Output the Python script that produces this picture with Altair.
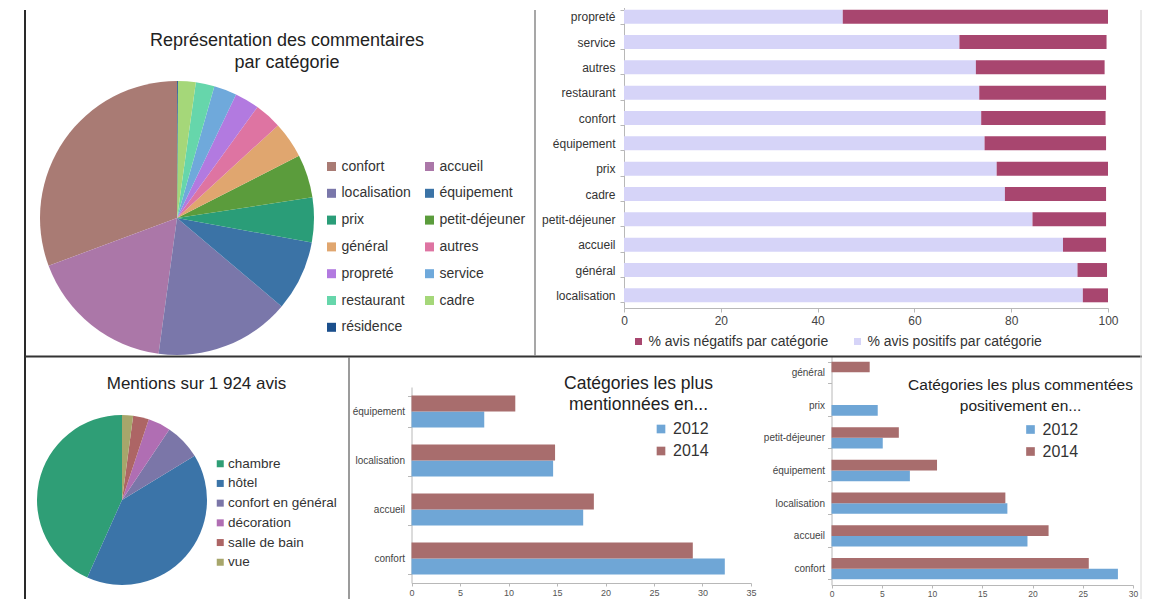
import altair as alt
import pandas as pd

FONT = "Liberation Sans"
W, H = 1134, 591
LSHIFT = 6  # vega places the legend symbol a few px right of legendX


def px(v):
    # page pixel -> chart pixel (the page has an 8px margin)
    return v - 8


# ---------------- data ----------------
pie_a_title = ["Représentation des commentaires", "par catégorie"]
pie_a_cats = ["confort", "accueil", "localisation", "équipement", "prix", "petit-déjeuner",
              "général", "autres", "propreté", "service", "restaurant", "cadre", "résidence"]
pie_a_vals = [30.7, 17.2, 16.0, 8.3, 5.3, 5.1, 4.3, 3.2, 2.9, 2.7, 2.2, 2.1, 0.1]
pie_a_colors = ["#a97b74", "#ab77a8", "#7a77aa", "#3b73a6", "#2a9d78", "#5b9c3c",
                "#e0a66f", "#de74a2", "#b27ae0", "#6fa9db", "#66d6ab", "#a5d779", "#1b4f8c"]

bar_b_cats = ["propreté", "service", "autres", "restaurant", "confort", "équipement",
              "prix", "cadre", "petit-déjeuner", "accueil", "général", "localisation"]
bar_b_pos = [45.2, 69.3, 72.7, 73.4, 73.8, 74.5, 77.0, 78.7, 84.4, 90.7, 93.7, 94.8]
bar_b_neg = [54.8, 30.4, 26.6, 26.2, 25.7, 25.1, 23.0, 20.9, 15.2, 8.9, 6.1, 5.2]
bar_b_series = ["% avis négatifs par catégorie", "% avis positifs par catégorie"]
bar_b_colors = ["#a8466f", "#d6d4f8"]
bar_b_ticks = [0, 20, 40, 60, 80, 100]

pie_c_title = ["Mentions sur 1 924 avis"]
pie_c_cats = ["chambre", "hôtel", "confort en général", "décoration", "salle de bain", "vue"]
pie_c_vals = [43.3, 40.4, 6.9, 4.3, 3.0, 2.1]
pie_c_colors = ["#2f9e76", "#3b74a8", "#7b76a8", "#b06eb3", "#ad6565", "#a7a66b"]

years = ["2012", "2014"]
year_colors = ["#6fa6d6", "#a86d6d"]

bar_d_title = ["Catégories les plus", "mentionnées en..."]
bar_d_cats = ["équipement", "localisation", "accueil", "confort"]
bar_d_2012 = [7.5, 14.6, 17.7, 32.3]
bar_d_2014 = [10.7, 14.8, 18.8, 29.0]
bar_d_ticks = [0, 5, 10, 15, 20, 25, 30, 35]

bar_e_title = ["Catégories les plus commentées", "positivement en..."]
bar_e_cats = ["général", "prix", "petit-déjeuner", "équipement", "localisation", "accueil", "confort"]
bar_e_2012 = [None, 4.6, 5.1, 7.8, 17.5, 19.5, 28.5]
bar_e_2014 = [3.8, None, 6.7, 10.5, 17.3, 21.6, 25.6]
bar_e_ticks = [0, 5, 10, 15, 20, 25, 30]

# ---------------- tables ----------------
df_a = pd.DataFrame({"cat": pie_a_cats, "val": pie_a_vals, "idx": list(range(len(pie_a_cats)))})
df_c = pd.DataFrame({"cat": pie_c_cats, "val": pie_c_vals, "idx": list(range(len(pie_c_cats)))})

n_b = len(bar_b_cats)
df_b = pd.DataFrame({
    "cat": bar_b_cats * 2,
    "series": [bar_b_series[1]] * n_b + [bar_b_series[0]] * n_b,
    "val": bar_b_pos + bar_b_neg,
    "ord": [0] * n_b + [1] * n_b,
})


def grouped(cats, v2012, v2014):
    rows = []
    for c, a, b in zip(cats, v2012, v2014):
        if a is not None:
            rows.append({"cat": c, "year": "2012", "val": a})
        if b is not None:
            rows.append({"cat": c, "year": "2014", "val": b})
    return pd.DataFrame(rows)


df_d = grouped(bar_d_cats, bar_d_2012, bar_d_2014)
df_e = grouped(bar_e_cats, bar_e_2012, bar_e_2014)


# ---------------- helpers ----------------
def rule(x1, y1, x2, y2, color, width):
    return alt.Chart(pd.DataFrame({"r": [0]})).mark_rule(color=color, strokeWidth=width).encode(
        x=alt.value(px(x1)), x2=alt.value(px(x2)), y=alt.value(px(y1)), y2=alt.value(px(y2))
    )


def text(t, x, y, size, color="#222"):
    return alt.Chart(pd.DataFrame({"t": [t]})).mark_text(
        font=FONT, fontSize=size, color=color, align="center", baseline="middle"
    ).encode(text="t:N", x=alt.value(px(x)), y=alt.value(px(y)))


def pie(df, cats, colors, cx, cy, r, legend):
    return alt.Chart(df).mark_arc(outerRadius=r).encode(
        theta=alt.Theta("val:Q", stack=True),
        order=alt.Order("idx:Q", sort="descending"),
        color=alt.Color("cat:N", sort=cats, scale=alt.Scale(domain=cats, range=colors), legend=legend),
        x=alt.value(px(cx)),
        y=alt.value(px(cy)),
    )


def hbars(df, cats, ticks, x0, x1, y0, y1, axis_y, lab_y, lab_x, tick_pad, legend_x, legend_y):
    return alt.Chart(df).mark_bar().encode(
        y=alt.Y("cat:N", sort=cats, title=None,
                scale=alt.Scale(domain=cats, range=[px(y0), px(y1)], paddingInner=0.35, paddingOuter=0.175),
                axis=alt.Axis(orient="left", offset=-px(x0), labelFontSize=lab_y, labelPadding=3,
                              tickSize=4, tickBand="extent", labelColor="#444")),
        yOffset=alt.YOffset("year:N", scale=alt.Scale(domain=["2014", "2012"])),
        x=alt.X("val:Q", title=None,
                scale=alt.Scale(domain=[ticks[0], ticks[-1]], range=[px(x0), px(x1)], nice=False, zero=True),
                axis=alt.Axis(orient="bottom", offset=px(axis_y) - H, values=ticks, labelFontSize=lab_x,
                              labelFlush=False, labelOverlap=False, tickSize=3, labelPadding=tick_pad,
                              labelColor="#555")),
        color=alt.Color("year:N", scale=alt.Scale(domain=years, range=year_colors),
                        legend=alt.Legend(orient="none", legendX=px(legend_x - LSHIFT), legendY=px(legend_y),
                                          title=None, labelFontSize=16, symbolSize=75, labelOffset=4,
                                          rowPadding=6)),
    )


# ---------------- panels ----------------
pie_a = pie(df_a, pie_a_cats, pie_a_colors, 177, 218, 137,
            alt.Legend(orient="none", legendX=px(330.5 - LSHIFT), legendY=px(159.5), columns=2,
                       direction="horizontal", gridAlign="each", title=None,
                       labelFontSize=14, symbolSize=81, labelOffset=3, rowPadding=12.8, columnPadding=11))

pie_c = pie(df_c, pie_c_cats, pie_c_colors, 122, 500, 85,
            alt.Legend(orient="none", legendX=px(219.5 - LSHIFT), legendY=px(457), title=None,
                       labelFontSize=13.5, symbolSize=49, labelOffset=1, rowPadding=4.7))

bar_b = alt.Chart(df_b).mark_bar().encode(
    y=alt.Y("cat:N", sort=bar_b_cats, title=None,
            scale=alt.Scale(domain=bar_b_cats, range=[px(4), px(308)], paddingInner=0.45, paddingOuter=0.225),
            axis=alt.Axis(orient="left", offset=-px(624), labelFontSize=12, labelPadding=5, tickSize=4,
                          tickBand="extent", labelColor="#333")),
    x=alt.X("val:Q", stack="zero", title=None,
            scale=alt.Scale(domain=[0, 100], range=[px(624), px(1108)], nice=False),
            axis=alt.Axis(orient="bottom", offset=px(308) - H, values=bar_b_ticks, labelFontSize=12,
                          labelFlush=False, labelOverlap=False, tickSize=4, labelPadding=3,
                          labelColor="#444")),
    color=alt.Color("series:N", scale=alt.Scale(domain=bar_b_series, range=bar_b_colors),
                    legend=alt.Legend(orient="none", direction="horizontal", legendX=px(637.5 - LSHIFT),
                                      legendY=px(334.5), title=None, labelFontSize=14, symbolSize=49,
                                      labelOffset=3, columnPadding=22, labelLimit=400)),
    order=alt.Order("ord:Q"),
)

bar_d = hbars(df_d, bar_d_cats, bar_d_ticks, 411.5, 751, 387, 583, 583, 10, 9, 2, 659, 421)
bar_e = hbars(df_e, bar_e_cats, bar_e_ticks, 831.5, 1133, 356, 585, 585, 10, 8.5, 1, 1028.5, 421.5)

layers = [
    rule(25, 10, 25, 607, "#2a2a2a", 2),
    rule(25, 356.5, 1142, 356.5, "#333333", 2),
    rule(535, 10, 535, 356, "#8a8a8a", 1.5),
    rule(349, 357, 349, 607, "#7a7a7a", 1.5),
    rule(1141, 10, 1141, 607, "#d6d6d6", 1),
    pie_a,
    bar_b,
    pie_c,
    bar_d,
    bar_e,
    text(pie_a_title[0], 287, 41, 18),
    text(pie_a_title[1], 287, 63, 18),
    text(pie_c_title[0], 196.5, 384, 17),
    text(bar_d_title[0], 638.5, 384, 17.5),
    text(bar_d_title[1], 638.5, 405, 17.5),
    text(bar_e_title[0], 1020.5, 385, 15.5),
    text(bar_e_title[1], 1020.5, 406, 15.5),
]

chart = alt.layer(*layers).resolve_scale(
    x="independent", y="independent", color="independent", theta="independent", yOffset="independent"
).properties(
    width=W, height=H, padding=0, autosize=alt.AutoSizeParams(type="none")
).configure_view(strokeWidth=0).configure_axis(
    labelFont=FONT, grid=False, domainColor="#b8b8b8", tickColor="#b8b8b8"
).configure_legend(
    labelFont=FONT, labelColor="#333", symbolType="square", symbolStrokeWidth=0, padding=0
)

chart.save("out.html", embed_options={"renderer": "svg", "actions": False})
